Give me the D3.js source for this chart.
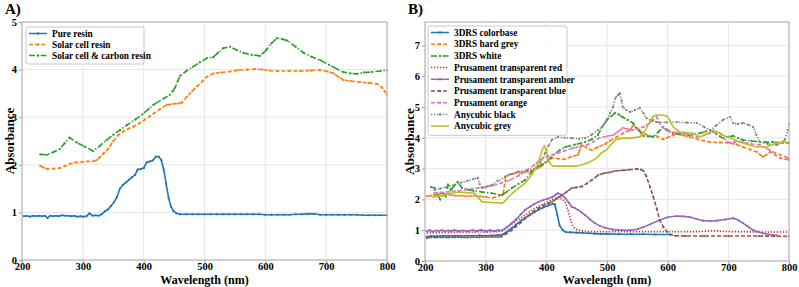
<!DOCTYPE html>
<html>
<head>
<meta charset="utf-8">
<script src="https://cdn.jsdelivr.net/npm/d3@7"></script>
<style>
  body { margin: 0; background: #fff; }
  svg text { font-family: "Liberation Serif", "Times New Roman", serif; font-weight: bold; fill: #000; }
</style>
</head>
<body>
<div class="chart"></div>
<script>
// ---- data: [wavelength (nm), absorbance] ----
var pureResin = [[203,0.92],[208,0.93],[213,0.91],[218,0.93],[223,0.92],[228,0.93],[233,0.92],[238,0.93],[242,0.88],[246,0.93],[251,0.92],[256,0.93],[261,0.92],[266,0.94],[271,0.93],[276,0.93],[281,0.92],[286,0.93],[291,0.91],[296,0.92],[301,0.91],[306,0.92],[311,0.98],[316,0.93],[321,0.94],[326,0.93],[331,0.96],[336,1.02],[341,1.06],[346,1.13],[351,1.21],[356,1.32],[361,1.5],[366,1.58],[371,1.63],[376,1.69],[381,1.74],[386,1.79],[390,1.9],[395,1.91],[400,1.93],[405,2.05],[410,2.07],[415,2.09],[420,2.17],[425,2.17],[429,2.1],[433,1.9],[437,1.6],[441,1.3],[445,1.12],[449,1.03],[454,0.98],[460,0.96],[470,0.96],[480,0.96],[490,0.96],[500,0.96],[510,0.96],[520,0.96],[530,0.96],[540,0.96],[550,0.96],[560,0.96],[570,0.96],[580,0.96],[590,0.96],[600,0.95],[610,0.95],[620,0.95],[630,0.95],[640,0.95],[650,0.96],[660,0.96],[670,0.97],[680,0.97],[690,0.95],[700,0.95],[710,0.95],[720,0.95],[730,0.95],[740,0.95],[750,0.95],[760,0.94],[770,0.94],[780,0.94],[790,0.94],[800,0.94]];
var solarResin = [[230,1.98],[236,1.94],[242,1.91],[252,1.92],[262,1.93],[270,1.97],[279,2.02],[288,2.05],[298,2.06],[308,2.07],[317,2.07],[323,2.1],[328,2.16],[334,2.24],[340,2.31],[345,2.4],[350,2.5],[358,2.62],[366,2.7],[375,2.76],[383,2.8],[394,2.88],[402,2.95],[410,3.02],[418,3.09],[427,3.17],[438,3.26],[449,3.28],[458,3.29],[463,3.31],[471,3.43],[480,3.55],[488,3.65],[496,3.75],[504,3.85],[515,3.92],[528,3.94],[542,3.96],[556,3.99],[570,4.0],[583,4.01],[595,4.0],[607,3.98],[619,3.97],[638,3.97],[657,3.97],[675,3.98],[690,3.99],[702,3.96],[712,3.92],[720,3.85],[728,3.78],[740,3.76],[756,3.74],[770,3.72],[784,3.7],[792,3.62],[796,3.55],[800,3.47]];
var carbonResin = [[230,2.22],[241,2.21],[252,2.27],[262,2.33],[270,2.45],[278,2.57],[290,2.47],[303,2.38],[317,2.29],[328,2.4],[339,2.52],[350,2.63],[361,2.73],[373,2.84],[386,2.95],[398,3.06],[408,3.17],[416,3.26],[425,3.33],[434,3.4],[443,3.47],[448,3.55],[452,3.63],[456,3.76],[460,3.87],[470,3.97],[481,4.06],[492,4.15],[504,4.24],[514,4.26],[522,4.35],[531,4.45],[542,4.48],[553,4.41],[564,4.35],[578,4.31],[591,4.29],[597,4.35],[602,4.42],[610,4.55],[619,4.66],[628,4.64],[636,4.61],[650,4.48],[663,4.35],[676,4.27],[690,4.2],[705,4.1],[718,4.01],[728,3.95],[740,3.92],[750,3.91],[762,3.94],[775,3.95],[789,3.97],[800,3.99]];

var colorbase = [[203,0.79],[210,0.81],[220,0.8],[230,0.82],[240,0.81],[250,0.82],[260,0.81],[270,0.82],[280,0.82],[290,0.83],[300,0.82],[310,0.83],[320,0.84],[328,0.86],[335,0.95],[343,1.07],[350,1.18],[358,1.3],[365,1.4],[373,1.5],[380,1.58],[387,1.66],[395,1.74],[403,1.8],[410,1.85],[414,1.84],[418,1.5],[422,1.15],[427,1.0],[432,0.94],[440,0.93],[450,0.92],[460,0.91],[470,0.9],[480,0.89],[490,0.88],[500,0.88],[520,0.87],[540,0.87],[560,0.87],[580,0.86],[604,0.86]];
var hardGrey = [[203,2.1],[210,2.12],[220,2.16],[230,2.2],[240,2.15],[250,2.12],[260,2.12],[269,2.1],[280,2.12],[290,2.1],[300,2.08],[312,2.05],[322,2.12],[329,2.2],[333,2.75],[340,2.82],[350,2.85],[360,2.88],[370,2.9],[380,2.95],[390,3.05],[400,3.2],[410,3.35],[420,3.32],[431,3.3],[440,3.38],[452,3.44],[455,3.6],[458,3.77],[466,3.68],[475,3.6],[485,3.7],[497,3.8],[505,3.9],[516,4.03],[527,4.15],[538,4.25],[543,4.4],[549,4.3],[560,4.15],[571,4.05],[582,4.05],[592,3.95],[599,4.0],[608,4.08],[615,4.12],[625,4.08],[636,4.03],[650,3.95],[660,3.9],[670,3.86],[686,3.85],[703,3.83],[714,3.78],[724,3.7],[736,3.62],[747,3.54],[757,3.38],[763,3.45],[769,3.54],[777,3.45],[785,3.35],[800,3.28]];
var white = [[210,2.4],[216,2.37],[221,2.14],[225,2.0],[230,2.2],[234,2.1],[238,2.47],[243,2.3],[248,2.45],[254,2.57],[261,2.37],[270,2.32],[280,2.28],[294,2.24],[310,2.2],[327,2.14],[335,2.25],[343,2.37],[354,2.5],[365,2.63],[376,2.9],[385,3.05],[394,3.15],[403,3.28],[412,3.45],[422,3.6],[431,3.7],[447,3.78],[464,3.86],[475,3.95],[485,4.09],[492,4.35],[500,4.58],[507,4.7],[513,4.8],[520,4.75],[526,4.67],[534,4.58],[543,4.48],[552,4.25],[560,4.06],[568,4.05],[576,4.03],[585,4.2],[593,4.35],[600,4.25],[609,4.15],[620,4.12],[636,4.09],[653,4.15],[662,4.2],[670,4.25],[680,4.12],[691,3.99],[700,4.03],[708,4.06],[716,3.99],[724,3.93],[738,3.9],[752,3.86],[774,3.86],[790,3.84],[800,3.83]];
var trRed = [[203,0.9],[210,0.93],[220,0.91],[230,0.93],[240,0.92],[250,0.94],[260,0.93],[270,0.94],[280,0.93],[290,0.95],[300,0.93],[310,0.95],[320,0.95],[328,0.98],[335,1.08],[343,1.2],[350,1.3],[358,1.4],[365,1.49],[373,1.6],[380,1.7],[390,1.8],[398,1.88],[405,1.95],[412,2.02],[419,2.08],[425,2.02],[431,1.92],[434,1.75],[437,1.56],[440,1.35],[443,1.17],[447,1.06],[452,1.0],[460,0.97],[475,0.95],[500,0.95],[550,0.95],[600,0.95],[640,0.95],[660,0.96],[675,0.98],[690,0.96],[720,0.95],[760,0.94],[800,0.94]];
var trAmber = [[203,0.96],[208,1.0],[213,0.95],[218,0.99],[223,0.97],[228,1.0],[233,0.96],[238,0.99],[243,0.97],[248,1.0],[255,0.97],[262,0.99],[270,0.97],[278,1.0],[285,0.97],[292,1.01],[300,0.97],[307,1.0],[314,0.97],[320,1.0],[327,0.99],[335,1.1],[343,1.23],[350,1.35],[358,1.52],[365,1.66],[373,1.76],[380,1.85],[387,1.92],[395,1.98],[402,2.02],[410,2.08],[415,2.15],[419,2.2],[425,2.15],[431,2.05],[437,1.9],[442,1.76],[447,1.72],[452,1.66],[458,1.58],[464,1.49],[472,1.35],[480,1.23],[488,1.14],[497,1.08],[510,1.02],[525,1.0],[538,1.0],[550,1.03],[560,1.1],[572,1.2],[587,1.33],[600,1.42],[615,1.46],[625,1.45],[636,1.43],[647,1.37],[658,1.31],[670,1.3],[681,1.31],[695,1.35],[708,1.39],[716,1.33],[724,1.23],[732,1.12],[741,1.0],[749,0.95],[757,0.9],[766,0.86],[774,0.84],[780,0.83]];
var trBlue = [[203,0.75],[210,0.77],[220,0.76],[230,0.77],[240,0.76],[250,0.77],[260,0.77],[270,0.76],[280,0.77],[290,0.77],[300,0.78],[310,0.78],[320,0.78],[327,0.8],[335,0.9],[343,1.0],[350,1.12],[358,1.25],[365,1.38],[373,1.5],[380,1.62],[387,1.72],[395,1.8],[403,1.87],[410,1.93],[418,2.03],[426,2.14],[434,2.25],[442,2.37],[450,2.39],[459,2.42],[467,2.52],[475,2.63],[485,2.78],[495,2.85],[505,2.88],[515,2.93],[525,2.94],[535,2.96],[549,2.99],[556,2.97],[560,2.93],[565,2.75],[571,2.4],[576,2.1],[582,1.7],[587,1.33],[593,1.1],[599,0.95],[605,0.86],[612,0.82],[630,0.81],[660,0.81],[700,0.81],[750,0.81],[800,0.8]];
var prOrange = [[215,2.2],[225,2.22],[240,2.25],[255,2.28],[269,2.32],[285,2.36],[300,2.4],[312,2.45],[325,2.53],[340,2.63],[355,2.78],[368,2.95],[380,3.12],[390,3.28],[400,3.38],[410,3.45],[418,3.5],[430,3.58],[444,3.67],[456,3.72],[467,3.77],[478,3.88],[488,4.0],[500,4.05],[510,4.09],[518,4.2],[526,4.32],[535,4.28],[543,4.25],[552,4.3],[560,4.35],[566,4.42],[571,4.48],[576,4.58],[582,4.67],[586,4.5],[591,4.35],[597,4.25],[604,4.19],[615,4.17],[626,4.15],[637,4.1],[648,4.03],[660,4.08],[670,4.15],[680,4.18],[686,4.15],[692,4.0],[698,3.86],[710,3.86],[724,3.86],[738,3.8],[752,3.77],[763,3.66],[774,3.54],[786,3.45],[798,3.35],[800,3.32]];
var acBlack = [[216,2.3],[225,2.35],[235,2.4],[249,2.47],[260,2.55],[270,2.6],[280,2.66],[287,2.7],[290,2.5],[294,2.37],[302,2.42],[310,2.47],[320,2.6],[332,2.73],[343,2.82],[353,2.9],[368,2.95],[381,3.0],[390,3.2],[398,3.5],[404,3.75],[409,3.93],[419,4.03],[430,4.0],[442,3.99],[454,3.97],[464,3.99],[475,4.1],[485,4.25],[494,4.4],[500,4.6],[505,4.8],[510,5.0],[514,5.3],[518,5.39],[521,5.45],[524,5.2],[526,5.0],[532,4.9],[538,4.84],[546,4.9],[554,4.97],[560,4.8],[565,4.64],[574,4.55],[582,4.51],[598,4.5],[615,4.51],[632,4.49],[648,4.48],[660,4.35],[670,4.25],[680,4.4],[691,4.58],[703,4.67],[708,4.48],[716,4.45],[724,4.48],[733,4.42],[741,4.35],[746,4.1],[752,3.86],[765,3.8],[780,3.77],[788,3.85],[793,3.93],[798,4.25],[800,4.45]];
var acGrey = [[212,2.07],[225,2.12],[240,2.18],[254,2.24],[268,2.22],[282,2.2],[288,2.05],[294,1.92],[310,1.9],[327,1.88],[332,1.95],[337,2.07],[350,2.3],[365,2.53],[376,2.8],[385,3.1],[390,3.4],[394,3.65],[397,3.73],[400,3.6],[403,3.3],[407,3.15],[411,3.08],[420,3.08],[434,3.08],[445,3.08],[455,3.1],[470,3.2],[483,3.34],[490,3.5],[500,3.62],[505,3.75],[515,3.95],[527,3.99],[538,3.99],[554,4.03],[562,4.2],[570,4.5],[576,4.7],[582,4.74],[590,4.74],[599,4.71],[604,4.55],[609,4.35],[620,4.19],[632,4.17],[642,4.15],[653,4.03],[664,4.12],[675,4.25],[686,4.15],[695,4.05],[703,3.99],[714,3.9],[724,3.83],[736,3.76],[747,3.7],[763,3.7],[772,3.77],[780,3.83],[790,3.85],[797,3.86]];

var xTicks = [200, 300, 400, 500, 600, 700, 800];
var yTicksA = [0, 1, 2, 3, 4, 5];
var yTicksB = [0, 1, 2, 3, 4, 5, 6, 7];

var dash = { solid: null, dashed: "4,2", dashdot: "6,2,1.5,2", dotted: "1.3,1.7" };

var seriesA = [
    { name: "Pure resin", data: pureResin, color: "#1f77b4", style: "solid", mark: true },
    { name: "Solar cell resin", data: solarResin, color: "#ff7f0e", style: "dashed", mark: true },
    { name: "Solar cell & carbon resin", data: carbonResin, color: "#2ca02c", style: "dashdot", mark: true }
];
var seriesB = [
    { name: "3DRS colorbase", data: colorbase, color: "#1f77b4", style: "solid", mark: true },
    { name: "3DRS hard grey", data: hardGrey, color: "#ff7f0e", style: "dashed", mark: true },
    { name: "3DRS white", data: white, color: "#2ca02c", style: "dashdot", mark: true },
    { name: "Prusament transparent red", data: trRed, color: "#d62728", style: "dotted", mark: false },
    { name: "Prusament transparent amber", data: trAmber, color: "#9467bd", style: "solid", mark: true },
    { name: "Prusament transparent blue", data: trBlue, color: "#8c564b", style: "dashed", mark: true },
    { name: "Prusament orange", data: prOrange, color: "#e377c2", style: "dashed", mark: true },
    { name: "Anycubic black", data: acBlack, color: "#7f7f7f", style: "dotted", mark: true },
    { name: "Anycubic grey", data: acGrey, color: "#bcbd22", style: "solid", mark: false }
];

var svg = d3.select(".chart").append("svg")
    .attr("width", 799)
    .attr("height", 287);

function drawPanel(opt) {
    var x = d3.scaleLinear().domain([200, 800]).range([opt.left, opt.right]);
    var y = d3.scaleLinear().domain([0, opt.yMax]).range([opt.bottom, opt.top]);
    var g = svg.append("g");

    // grid
    g.selectAll(".gx").data(xTicks).enter().append("line")
        .attr("x1", d => x(d)).attr("x2", d => x(d))
        .attr("y1", opt.top).attr("y2", opt.bottom)
        .attr("stroke", "#e6e6e6").attr("stroke-width", 1);
    g.selectAll(".gy").data(opt.yTicks).enter().append("line")
        .attr("x1", opt.left).attr("x2", opt.right)
        .attr("y1", d => y(d)).attr("y2", d => y(d))
        .attr("stroke", "#e6e6e6").attr("stroke-width", 1);

    // axes
    var xAxis = g.append("g")
        .attr("transform", "translate(0," + opt.bottom + ")")
        .call(d3.axisBottom(x).tickValues(xTicks).tickSize(3).tickPadding(0).tickFormat(d3.format("d")));
    var yAxis = g.append("g")
        .attr("transform", "translate(" + opt.left + ",0)")
        .call(d3.axisLeft(y).tickValues(opt.yTicks).tickSize(3).tickPadding(2).tickFormat(d3.format("d")));
    [xAxis, yAxis].forEach(function (a) {
        a.select(".domain").remove();
        a.selectAll("line").attr("stroke", "#999");
        a.selectAll("text").style("font-size", "10.5px").style("font-family", "Liberation Serif");
    });

    // lines
    var line = d3.line().x(d => x(d[0])).y(d => y(d[1]));
    opt.series.forEach(function (s) {
        g.append("path")
            .datum(s.data)
            .attr("fill", "none")
            .attr("stroke", s.color)
            .attr("stroke-width", 1.6)
            .attr("stroke-dasharray", dash[s.style])
            .attr("d", line);
        if (s.mark) {
            g.selectAll(null).data(s.data).enter().append("circle")
                .attr("cx", d => x(d[0])).attr("cy", d => y(d[1]))
                .attr("r", 1.1).attr("fill", s.color);
        }
    });

    // frame
    g.append("rect")
        .attr("x", opt.left).attr("y", opt.top)
        .attr("width", opt.right - opt.left).attr("height", opt.bottom - opt.top)
        .attr("fill", "none").attr("stroke", "#bdbdbd").attr("stroke-width", 1.3);

    // axis labels
    g.append("text")
        .attr("x", (opt.left + opt.right) / 2).attr("y", 284)
        .attr("text-anchor", "middle").style("font-size", "12px")
        .text("Wavelength (nm)");
    g.append("text")
        .attr("transform", "translate(" + (opt.left - opt.labelGap) + "," + ((opt.top + opt.bottom) / 2) + ") rotate(-90)")
        .attr("text-anchor", "middle").style("font-size", "13px")
        .text("Absorbance");
    g.append("text")
        .attr("x", opt.left - 17).attr("y", 14)
        .style("font-size", "15px")
        .text(opt.title);

    // legend
    var lg = opt.legend;
    g.append("rect")
        .attr("x", lg.x).attr("y", lg.y)
        .attr("width", lg.w).attr("height", opt.series.length * lg.rowH + 4)
        .attr("rx", 2).attr("fill", "#fff").attr("fill-opacity", 0.85)
        .attr("stroke", "#c8c8c8").attr("stroke-width", 1);
    opt.series.forEach(function (s, i) {
        var cy = lg.y + 6.5 + i * lg.rowH;
        g.append("line")
            .attr("x1", lg.x + 3).attr("x2", lg.x + 21)
            .attr("y1", cy).attr("y2", cy)
            .attr("stroke", s.color).attr("stroke-width", 1.5)
            .attr("stroke-dasharray", dash[s.style]);
        if (s.mark) {
            g.append("circle").attr("cx", lg.x + 12).attr("cy", cy).attr("r", 1.2).attr("fill", s.color);
        }
        g.append("text")
            .attr("x", lg.x + 26).attr("y", cy + 3.2)
            .style("font-size", "9.3px")
            .text(s.name);
    });
}

drawPanel({ left: 22, right: 387, top: 22, bottom: 260, yMax: 5, yTicks: yTicksA, labelGap: 8,
    series: seriesA, title: "A)", legend: { x: 26, y: 27, w: 118, rowH: 11 } });
drawPanel({ left: 425, right: 789, top: 22, bottom: 261, yMax: 7.76, yTicks: yTicksB, labelGap: 11,
    series: seriesB, title: "B)", legend: { x: 428, y: 26, w: 139, rowH: 11.7 } });
</script>
</body>
</html>
